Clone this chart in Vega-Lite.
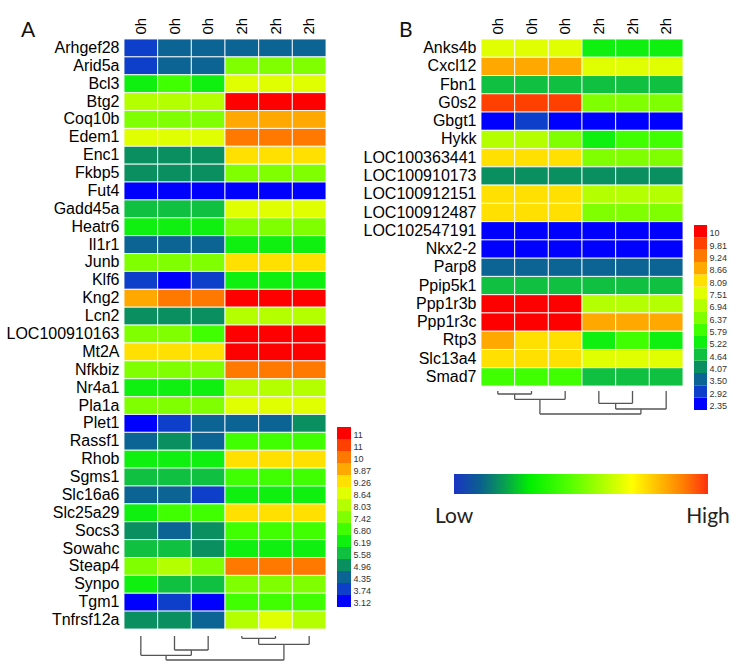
{
  "$schema": "https://vega.github.io/schema/vega-lite/v6.json",
  "background": "white",
  "padding": {"left": 6, "top": 17, "right": 5, "bottom": 5},
  "config": {"view": {"stroke": null}, "font": "Liberation Sans"},
  "datasets": {
    "heatA": [
      {"gene": "Arhgef28", "0h-1": 3.9, "0h-2": 4.4, "0h-3": 4.5, "2h-1": 4.5, "2h-2": 4.6, "2h-3": 4.5},
      {"gene": "Arid5a", "0h-1": 3.8, "0h-2": 4.5, "0h-3": 4.4, "2h-1": 7.6, "2h-2": 7.7, "2h-3": 7.6},
      {"gene": "Bcl3", "0h-1": 6.4, "0h-2": 6.9, "0h-3": 6.5, "2h-1": 8.8, "2h-2": 8.9, "2h-3": 8.8},
      {"gene": "Btg2", "0h-1": 8.2, "0h-2": 8.3, "0h-3": 8.2, "2h-1": 12.0, "2h-2": 11.9, "2h-3": 12.0},
      {"gene": "Coq10b", "0h-1": 7.6, "0h-2": 7.5, "0h-3": 7.6, "2h-1": 10.0, "2h-2": 10.1, "2h-3": 10.0},
      {"gene": "Edem1", "0h-1": 8.8, "0h-2": 8.8, "0h-3": 8.9, "2h-1": 10.7, "2h-2": 10.6, "2h-3": 10.7},
      {"gene": "Enc1", "0h-1": 5.1, "0h-2": 5.2, "0h-3": 5.1, "2h-1": 9.4, "2h-2": 9.5, "2h-3": 9.4},
      {"gene": "Fkbp5", "0h-1": 5.2, "0h-2": 5.2, "0h-3": 5.1, "2h-1": 7.6, "2h-2": 7.7, "2h-3": 7.6},
      {"gene": "Fut4", "0h-1": 3.3, "0h-2": 3.2, "0h-3": 3.3, "2h-1": 3.3, "2h-2": 3.2, "2h-3": 3.3},
      {"gene": "Gadd45a", "0h-1": 5.8, "0h-2": 5.7, "0h-3": 5.8, "2h-1": 8.8, "2h-2": 8.9, "2h-3": 8.8},
      {"gene": "Heatr6", "0h-1": 6.4, "0h-2": 6.3, "0h-3": 6.4, "2h-1": 7.6, "2h-2": 7.6, "2h-3": 7.7},
      {"gene": "Il1r1", "0h-1": 4.5, "0h-2": 4.5, "0h-3": 4.6, "2h-1": 6.4, "2h-2": 6.4, "2h-3": 6.3},
      {"gene": "Junb", "0h-1": 7.6, "0h-2": 7.7, "0h-3": 7.6, "2h-1": 9.4, "2h-2": 9.3, "2h-3": 9.4},
      {"gene": "Klf6", "0h-1": 3.9, "0h-2": 3.3, "0h-3": 3.9, "2h-1": 6.4, "2h-2": 6.3, "2h-3": 6.4},
      {"gene": "Kng2", "0h-1": 10.0, "0h-2": 10.7, "0h-3": 10.6, "2h-1": 11.9, "2h-2": 12.0, "2h-3": 11.9},
      {"gene": "Lcn2", "0h-1": 5.2, "0h-2": 5.1, "0h-3": 5.2, "2h-1": 8.2, "2h-2": 8.2, "2h-3": 8.3},
      {"gene": "LOC100910163", "0h-1": 7.6, "0h-2": 7.6, "0h-3": 7.0, "2h-1": 12.0, "2h-2": 11.9, "2h-3": 12.0},
      {"gene": "Mt2A", "0h-1": 9.4, "0h-2": 9.4, "0h-3": 9.3, "2h-1": 11.9, "2h-2": 12.0, "2h-3": 11.9},
      {"gene": "Nfkbiz", "0h-1": 7.6, "0h-2": 7.7, "0h-3": 7.6, "2h-1": 10.7, "2h-2": 10.7, "2h-3": 10.6},
      {"gene": "Nr4a1", "0h-1": 6.4, "0h-2": 6.4, "0h-3": 6.3, "2h-1": 8.2, "2h-2": 8.2, "2h-3": 8.3},
      {"gene": "Pla1a", "0h-1": 7.7, "0h-2": 7.6, "0h-3": 7.6, "2h-1": 8.8, "2h-2": 8.9, "2h-3": 8.8},
      {"gene": "Plet1", "0h-1": 3.3, "0h-2": 3.9, "0h-3": 4.5, "2h-1": 4.5, "2h-2": 4.6, "2h-3": 5.2},
      {"gene": "Rassf1", "0h-1": 4.5, "0h-2": 5.1, "0h-3": 4.5, "2h-1": 7.0, "2h-2": 7.0, "2h-3": 6.9},
      {"gene": "Rhob", "0h-1": 6.4, "0h-2": 6.3, "0h-3": 6.4, "2h-1": 9.4, "2h-2": 9.4, "2h-3": 9.5},
      {"gene": "Sgms1", "0h-1": 5.8, "0h-2": 5.8, "0h-3": 5.7, "2h-1": 7.0, "2h-2": 6.9, "2h-3": 7.0},
      {"gene": "Slc16a6", "0h-1": 4.5, "0h-2": 4.4, "0h-3": 3.9, "2h-1": 6.4, "2h-2": 6.3, "2h-3": 6.4},
      {"gene": "Slc25a29", "0h-1": 6.4, "0h-2": 6.9, "0h-3": 7.0, "2h-1": 9.4, "2h-2": 9.5, "2h-3": 9.4},
      {"gene": "Socs3", "0h-1": 5.1, "0h-2": 4.5, "0h-3": 5.2, "2h-1": 7.0, "2h-2": 6.9, "2h-3": 7.0},
      {"gene": "Sowahc", "0h-1": 5.8, "0h-2": 5.7, "0h-3": 5.2, "2h-1": 6.4, "2h-2": 6.3, "2h-3": 6.4},
      {"gene": "Steap4", "0h-1": 7.6, "0h-2": 8.2, "0h-3": 7.7, "2h-1": 10.7, "2h-2": 10.6, "2h-3": 10.7},
      {"gene": "Synpo", "0h-1": 6.4, "0h-2": 5.8, "0h-3": 5.7, "2h-1": 7.6, "2h-2": 7.6, "2h-3": 7.7},
      {"gene": "Tgm1", "0h-1": 3.3, "0h-2": 3.9, "0h-3": 3.2, "2h-1": 7.0, "2h-2": 7.0, "2h-3": 6.9},
      {"gene": "Tnfrsf12a", "0h-1": 5.2, "0h-2": 5.1, "0h-3": 4.5, "2h-1": 8.2, "2h-2": 8.8, "2h-3": 8.3}
    ],
    "heatB": [
      {"gene": "Anks4b", "0h-1": 7.7, "0h-2": 7.7, "0h-3": 7.6, "2h-1": 5.4, "2h-2": 5.4, "2h-3": 5.4},
      {"gene": "Cxcl12", "0h-1": 8.9, "0h-2": 8.9, "0h-3": 8.8, "2h-1": 7.7, "2h-2": 7.7, "2h-3": 7.6},
      {"gene": "Fbn1", "0h-1": 4.8, "0h-2": 4.9, "0h-3": 4.8, "2h-1": 4.8, "2h-2": 4.7, "2h-3": 4.8},
      {"gene": "G0s2", "0h-1": 10.0, "0h-2": 10.1, "0h-3": 10.0, "2h-1": 6.6, "2h-2": 6.6, "2h-3": 6.7},
      {"gene": "Gbgt1", "0h-1": 2.5, "0h-2": 3.1, "0h-3": 2.5, "2h-1": 2.4, "2h-2": 2.5, "2h-3": 2.4},
      {"gene": "Hykk", "0h-1": 7.1, "0h-2": 7.2, "0h-3": 6.6, "2h-1": 5.4, "2h-2": 6.0, "2h-3": 6.0},
      {"gene": "LOC100363441", "0h-1": 8.3, "0h-2": 8.3, "0h-3": 8.3, "2h-1": 6.6, "2h-2": 6.6, "2h-3": 6.6},
      {"gene": "LOC100910173", "0h-1": 4.3, "0h-2": 4.3, "0h-3": 4.3, "2h-1": 4.3, "2h-2": 4.3, "2h-3": 4.3},
      {"gene": "LOC100912151", "0h-1": 8.3, "0h-2": 8.3, "0h-3": 8.3, "2h-1": 7.1, "2h-2": 7.1, "2h-3": 7.1},
      {"gene": "LOC100912487", "0h-1": 8.3, "0h-2": 8.4, "0h-3": 8.3, "2h-1": 6.6, "2h-2": 6.6, "2h-3": 6.6},
      {"gene": "LOC102547191", "0h-1": 2.5, "0h-2": 2.4, "0h-3": 2.5, "2h-1": 2.5, "2h-2": 2.4, "2h-3": 2.5},
      {"gene": "Nkx2-2", "0h-1": 2.5, "0h-2": 2.5, "0h-3": 2.4, "2h-1": 2.5, "2h-2": 2.5, "2h-3": 2.4},
      {"gene": "Parp8", "0h-1": 3.7, "0h-2": 3.7, "0h-3": 3.7, "2h-1": 3.7, "2h-2": 3.7, "2h-3": 3.7},
      {"gene": "Ppip5k1", "0h-1": 4.9, "0h-2": 4.9, "0h-3": 4.8, "2h-1": 4.8, "2h-2": 4.8, "2h-3": 4.8},
      {"gene": "Ppp1r3b", "0h-1": 10.6, "0h-2": 10.6, "0h-3": 10.6, "2h-1": 7.1, "2h-2": 7.2, "2h-3": 7.1},
      {"gene": "Ppp1r3c", "0h-1": 10.6, "0h-2": 10.6, "0h-3": 10.6, "2h-1": 8.9, "2h-2": 8.9, "2h-3": 8.9},
      {"gene": "Rtp3", "0h-1": 8.9, "0h-2": 8.3, "0h-3": 8.3, "2h-1": 5.4, "2h-2": 5.9, "2h-3": 5.4},
      {"gene": "Slc13a4", "0h-1": 8.3, "0h-2": 8.3, "0h-3": 8.2, "2h-1": 7.7, "2h-2": 7.7, "2h-3": 7.7},
      {"gene": "Smad7", "0h-1": 6.0, "0h-2": 6.0, "0h-3": 6.0, "2h-1": 4.8, "2h-2": 4.8, "2h-3": 4.8}
    ],
    "legA": [
      {"lo": 3.12}, {"lo": 3.74}, {"lo": 4.35}, {"lo": 4.96}, {"lo": 5.58}, {"lo": 6.19}, {"lo": 6.80}, {"lo": 7.42},
      {"lo": 8.03}, {"lo": 8.64}, {"lo": 9.26}, {"lo": 9.87}, {"lo": 10.49}, {"lo": 11.1}, {"lo": 11.72}
    ],
    "legB": [
      {"lo": 2.35}, {"lo": 2.92}, {"lo": 3.50}, {"lo": 4.07}, {"lo": 4.64}, {"lo": 5.22}, {"lo": 5.79}, {"lo": 6.37},
      {"lo": 6.94}, {"lo": 7.51}, {"lo": 8.09}, {"lo": 8.66}, {"lo": 9.24}, {"lo": 9.81}, {"lo": 10.39}
    ],
    "treeA": [
      {"l": 4, "r": 5, "lh": 0, "rh": 0, "h": 2.3},
      {"l": 4.5, "r": 6, "lh": 2.3, "rh": 0, "h": 8.3},
      {"l": 2, "r": 3, "lh": 0, "rh": 0, "h": 14},
      {"l": 1, "r": 2.5, "lh": 0, "rh": 14, "h": 19.3},
      {"l": 1.75, "r": 5.25, "lh": 19.3, "rh": 8.3, "h": 24}
    ],
    "treeB": [
      {"l": 1, "r": 2, "lh": 0, "rh": 0, "h": 3},
      {"l": 1.5, "r": 3, "lh": 3, "rh": 0, "h": 8.3},
      {"l": 4, "r": 5, "lh": 0, "rh": 0, "h": 12.3},
      {"l": 4.5, "r": 6, "lh": 12.3, "rh": 0, "h": 18},
      {"l": 2.25, "r": 5.25, "lh": 8.3, "rh": 18, "h": 23}
    ],
    "grad": [
      {"lab": "Low", "level": 0},
      {"lab": "High", "level": 1}
    ]
  },
  "spacing": -8,
  "resolve": {"scale": {"color": "independent"}},
  "hconcat": [
    {
      "spacing": 3,
      "vconcat": [
        {
          "width": 202,
          "height": 590,
          "title": {"text": "A", "anchor": "start", "frame": "group", "dx": -103, "dy": 28, "fontSize": 21, "font": "Lato", "fontWeight": "normal", "color": "#111"},
          "resolve": {"scale": {"x": "independent", "y": "independent"}},
          "layer": [
            {
              "data": {"name": "heatA"},
              "transform": [{"fold": ["0h-1", "0h-2", "0h-3", "2h-1", "2h-2", "2h-3"], "as": ["sample", "value"]}],
              "mark": {"type": "rect", "stroke": "white", "strokeWidth": 1, "strokeOpacity": 0.85},
              "encoding": {
                "x": {"field": "sample", "type": "nominal", "sort": ["0h-1", "0h-2", "0h-3", "2h-1", "2h-2", "2h-3"],
                  "scale": {"paddingInner": 0, "paddingOuter": 0},
                  "axis": {"orient": "top", "title": null, "labelAngle": -90, "labelExpr": "split(datum.value, '-')[0]", "ticks": false, "domain": false, "labelFontSize": 15, "labelPadding": 5, "labelColor": "#000"}},
                "y": {"field": "gene", "type": "nominal", "sort": null,
                  "scale": {"paddingInner": 0, "paddingOuter": 0},
                  "axis": {"title": null, "ticks": false, "domain": false, "labelFontSize": 16, "labelPadding": 5, "labelColor": "#000", "labelLimit": 220}},
                "color": {"field": "value", "type": "quantitative", "legend": null,
                  "scale": {"type": "quantize", "nice": false, "domain": [3.02, 12.245], "range": ["#0000FF", "#0D3FCB", "#0B6494", "#0A9060", "#10C040", "#10F010", "#40FF00", "#80FF00", "#B4FF00", "#E0FF00", "#FFE000", "#FFA800", "#FF7800", "#FF4000", "#FF0000"]}}
              }
            },
            {
              "data": {"name": "legA"},
              "mark": {"type": "rect"},
              "encoding": {
                "x": {"datum": "key", "type": "nominal", "scale": {"range": [213, 227], "paddingInner": 0, "paddingOuter": 0}, "axis": null},
                "y": {"field": "lo", "type": "ordinal", "sort": "descending",
                  "scale": {"range": [388, 568], "paddingInner": 0, "paddingOuter": 0},
                  "axis": {"orient": "right", "offset": 25, "title": null, "ticks": false, "domain": false, "labelFontSize": 9, "labelFont": "Liberation Sans", "labelPadding": 2, "labelColor": "#333", "labelOffset": 2,
                    "labelExpr": "datum.value >= 10 ? format(floor(datum.value), 'd') : format(datum.value, '.2f')"}},
                "color": {"field": "lo", "type": "quantitative", "legend": null,
                  "scale": {"type": "quantize", "nice": false, "domain": [3.02, 12.245], "range": ["#0000FF", "#0D3FCB", "#0B6494", "#0A9060", "#10C040", "#10F010", "#40FF00", "#80FF00", "#B4FF00", "#E0FF00", "#FFE000", "#FFA800", "#FF7800", "#FF4000", "#FF0000"]}}
              }
            }
          ]
        },
        {
          "width": 202,
          "height": 28,
          "data": {"name": "treeA"},
          "layer": [
            {"mark": {"type": "rule", "color": "#555", "strokeWidth": 1.3},
             "encoding": {
               "x": {"field": "l", "type": "quantitative", "scale": {"domain": [0.5, 6.5], "nice": false, "zero": false}, "axis": null},
               "y": {"field": "lh", "type": "quantitative", "scale": {"domain": [-3, 25], "reverse": true, "nice": false, "zero": false}, "axis": null},
               "y2": {"field": "h"}}},
            {"mark": {"type": "rule", "color": "#555", "strokeWidth": 1.3},
             "encoding": {
               "x": {"field": "r", "type": "quantitative"},
               "y": {"field": "rh", "type": "quantitative"},
               "y2": {"field": "h"}}},
            {"mark": {"type": "rule", "color": "#555", "strokeWidth": 1.3},
             "encoding": {
               "x": {"field": "l", "type": "quantitative"},
               "x2": {"field": "r"},
               "y": {"field": "h", "type": "quantitative"}}}
          ]
        }
      ]
    },
    {
      "spacing": 3,
      "vconcat": [
        {
          "width": 202,
          "height": 347,
          "title": {"text": "B", "anchor": "start", "frame": "group", "dx": -82, "dy": 28, "fontSize": 21, "font": "Lato", "fontWeight": "normal", "color": "#111"},
          "resolve": {"scale": {"x": "independent", "y": "independent"}},
          "layer": [
            {
              "data": {"name": "heatB"},
              "transform": [{"fold": ["0h-1", "0h-2", "0h-3", "2h-1", "2h-2", "2h-3"], "as": ["sample", "value"]}],
              "mark": {"type": "rect", "stroke": "white", "strokeWidth": 1, "strokeOpacity": 0.85},
              "encoding": {
                "x": {"field": "sample", "type": "nominal", "sort": ["0h-1", "0h-2", "0h-3", "2h-1", "2h-2", "2h-3"],
                  "scale": {"paddingInner": 0, "paddingOuter": 0},
                  "axis": {"orient": "top", "title": null, "labelAngle": -90, "labelExpr": "split(datum.value, '-')[0]", "ticks": false, "domain": false, "labelFontSize": 15, "labelPadding": 5, "labelColor": "#000"}},
                "y": {"field": "gene", "type": "nominal", "sort": null,
                  "scale": {"paddingInner": 0, "paddingOuter": 0},
                  "axis": {"title": null, "ticks": false, "domain": false, "labelFontSize": 16, "labelPadding": 5, "labelColor": "#000", "labelLimit": 220}},
                "color": {"field": "value", "type": "quantitative", "legend": null,
                  "scale": {"type": "quantize", "nice": false, "domain": [2.25, 10.875], "range": ["#0000FF", "#0D3FCB", "#0B6494", "#0A9060", "#10C040", "#10F010", "#40FF00", "#80FF00", "#B4FF00", "#E0FF00", "#FFE000", "#FFA800", "#FF7800", "#FF4000", "#FF0000"]}}
              }
            },
            {
              "data": {"name": "legB"},
              "mark": {"type": "rect"},
              "encoding": {
                "x": {"datum": "key", "type": "nominal", "scale": {"range": [213, 226], "paddingInner": 0, "paddingOuter": 0}, "axis": null},
                "y": {"field": "lo", "type": "ordinal", "sort": "descending",
                  "scale": {"range": [186, 371], "paddingInner": 0, "paddingOuter": 0},
                  "axis": {"orient": "right", "offset": 24, "title": null, "ticks": false, "domain": false, "labelFontSize": 9, "labelFont": "Liberation Sans", "labelPadding": 2, "labelColor": "#333", "labelOffset": 2,
                    "labelExpr": "datum.value >= 10 ? format(floor(datum.value), 'd') : format(datum.value, '.2f')"}},
                "color": {"field": "lo", "type": "quantitative", "legend": null,
                  "scale": {"type": "quantize", "nice": false, "domain": [2.25, 10.875], "range": ["#0000FF", "#0D3FCB", "#0B6494", "#0A9060", "#10C040", "#10F010", "#40FF00", "#80FF00", "#B4FF00", "#E0FF00", "#FFE000", "#FFA800", "#FF7800", "#FF4000", "#FF0000"]}}
              }
            },
            {
              "data": {"name": "treeB"},
              "mark": {"type": "rule", "color": "#555", "strokeWidth": 1.3},
              "encoding": {
                "x": {"field": "l", "type": "quantitative", "scale": {"domain": [0.5, 6.5], "range": [0, 202], "nice": false, "zero": false}, "axis": null},
                "y": {"field": "lh", "type": "quantitative", "scale": {"domain": [-2, 26], "range": [350, 378], "nice": false, "zero": false}, "axis": null},
                "y2": {"field": "h"}
              }
            },
            {
              "data": {"name": "treeB"},
              "mark": {"type": "rule", "color": "#555", "strokeWidth": 1.3},
              "encoding": {
                "x": {"field": "r", "type": "quantitative", "scale": {"domain": [0.5, 6.5], "range": [0, 202], "nice": false, "zero": false}, "axis": null},
                "y": {"field": "rh", "type": "quantitative", "scale": {"domain": [-2, 26], "range": [350, 378], "nice": false, "zero": false}, "axis": null},
                "y2": {"field": "h"}
              }
            },
            {
              "data": {"name": "treeB"},
              "mark": {"type": "rule", "color": "#555", "strokeWidth": 1.3},
              "encoding": {
                "x": {"field": "l", "type": "quantitative", "scale": {"domain": [0.5, 6.5], "range": [0, 202], "nice": false, "zero": false}, "axis": null},
                "x2": {"field": "r"},
                "y": {"field": "h", "type": "quantitative", "scale": {"domain": [-2, 26], "range": [350, 378], "nice": false, "zero": false}, "axis": null}
              }
            },
            {
              "data": {"name": "grad"},
              "mark": {"type": "rect", "fill": {"gradient": "linear", "x1": 0, "x2": 1, "y1": 0, "y2": 0,
                "stops": [
                  {"offset": 0, "color": "#1A35C4"},
                  {"offset": 0.1, "color": "#0B5E90"},
                  {"offset": 0.2, "color": "#08A050"},
                  {"offset": 0.3, "color": "#00F000"},
                  {"offset": 0.45, "color": "#50FF00"},
                  {"offset": 0.6, "color": "#B8FF00"},
                  {"offset": 0.7, "color": "#FFFF00"},
                  {"offset": 0.8, "color": "#FFC000"},
                  {"offset": 0.9, "color": "#FF8000"},
                  {"offset": 1, "color": "#FF3010"}
                ]}},
              "encoding": {
                "x": {"aggregate": "min", "field": "level", "type": "quantitative", "scale": {"domain": [0, 1], "range": [-27, 227], "nice": false, "zero": false}, "axis": null},
                "x2": {"aggregate": "max", "field": "level"},
                "y": {"datum": "bar", "type": "nominal", "scale": {"range": [435, 455], "paddingInner": 0, "paddingOuter": 0}, "axis": null}
              }
            },
            {
              "data": {"name": "grad"},
              "mark": {"type": "text", "font": "Lato", "fontSize": 21, "color": "#222"},
              "encoding": {
                "x": {"field": "level", "type": "quantitative", "scale": {"domain": [0, 1], "range": [-27, 227], "nice": false, "zero": false}, "axis": null},
                "y": {"datum": "lbl", "type": "nominal", "scale": {"range": [468, 488]}, "axis": null},
                "text": {"field": "lab"}
              }
            }
          ]
        }
      ]
    }
  ]
}
